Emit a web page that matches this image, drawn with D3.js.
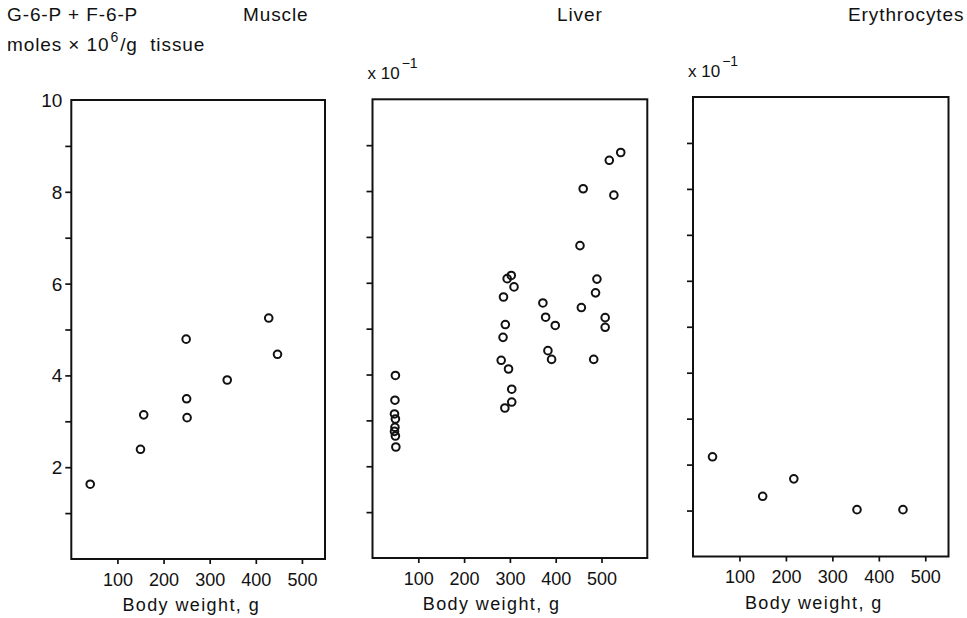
<!DOCTYPE html>
<html>
<head>
<meta charset="utf-8">
<script src="https://cdn.jsdelivr.net/npm/d3@7"></script>
<style>
  html, body { margin: 0; padding: 0; background: #fff; }
  svg text { font-family: "Liberation Sans", Arial, sans-serif; fill: #111; }
</style>
</head>
<body>
<svg id="chart" width="967" height="618"></svg>
<script>
// Body weight (g) and hexose monophosphate content, one pair of arrays per tissue
const muscleWeight = [41, 150, 157, 249, 250, 251, 338, 428, 447];
const muscleValue  = [1.63, 2.39, 3.14, 4.79, 3.49, 3.08, 3.90, 5.25, 4.46];

const liverWeight = [542, 517, 460, 527, 453, 490, 487, 303, 294, 309, 286,
                     372, 378, 399, 456, 508, 508, 290, 285, 383, 391, 483, 281, 297, 304, 304, 289,
                     50, 49, 48, 50, 49, 48, 50, 51];
const liverValue  = [8.84, 8.67, 8.05, 7.91, 6.81, 6.08, 5.78, 6.16, 6.09, 5.91, 5.69,
                     5.56, 5.25, 5.07, 5.46, 5.24, 5.03, 5.09, 4.81, 4.52, 4.33, 4.33, 4.31, 4.12, 3.68, 3.40, 3.27,
                     3.98, 3.44, 3.14, 3.03, 2.85, 2.76, 2.66, 2.42];

const eryWeight = [42, 150, 217, 353, 452];
const eryValue  = [2.17, 1.31, 1.69, 1.02, 1.02];

// Axis ticks
const xTickValues = [100, 200, 300, 400, 500];
const yTickValues = [1, 2, 3, 4, 5, 6, 7, 8, 9];
const yTickLabels = [2, 4, 6, 8, 10];

const panels = [
  { title: "Muscle", w: muscleWeight, v: muscleValue, xMax: 550,
    left: 71.3, right: 325, top: 100, bottom: 559, titleX: 243, labels: true },
  { title: "Liver", w: liverWeight, v: liverValue, xMax: 600,
    left: 372.5, right: 647.3, top: 99.3, bottom: 558, titleX: 557, scale: true },
  { title: "Erythrocytes", w: eryWeight, v: eryValue, xMax: 550,
    left: 693, right: 948.5, top: 97, bottom: 556.5, titleX: 848, scale: true }
];

const svg = d3.select("#chart");
const ink = "#111";

// Header: quantity and unit
svg.append("text").attr("x", 7).attr("y", 21).attr("font-size", 19)
  .attr("letter-spacing", 0.9).text("G-6-P + F-6-P");
const unit = svg.append("text").attr("x", 7).attr("y", 51).attr("font-size", 19)
  .attr("letter-spacing", 0.9);
unit.append("tspan").text("moles \u00d7 10");
unit.append("tspan").attr("dy", -9).attr("dx", 1).attr("font-size", 14).text("6");
unit.append("tspan").attr("dy", 9).attr("dx", 1).text("/g\u00a0\u00a0tissue");

panels.forEach(p => {
  const x = d3.scaleLinear().domain([0, p.xMax]).range([p.left, p.right]);
  const y = d3.scaleLinear().domain([0, 10]).range([p.bottom, p.top]);
  const g = svg.append("g");

  // Frame
  g.append("rect")
    .attr("x", p.left).attr("y", p.top)
    .attr("width", p.right - p.left).attr("height", p.bottom - p.top)
    .attr("fill", "none").attr("stroke", ink).attr("stroke-width", 2);

  // Bottom axis
  const xa = g.append("g").attr("transform", `translate(0,${p.bottom})`)
    .call(d3.axisBottom(x).tickValues(xTickValues).tickSize(5).tickPadding(9));
  xa.select(".domain").remove();
  xa.selectAll(".tick line").attr("stroke", ink).attr("stroke-width", 1.7);
  xa.selectAll(".tick text").attr("font-size", 18).attr("fill", ink)
    .attr("font-family", "Liberation Sans, Arial, sans-serif");

  // Left axis
  const ya = g.append("g").attr("transform", `translate(${p.left},0)`)
    .call(d3.axisLeft(y).tickValues(yTickValues).tickSize(6).tickFormat(""));
  ya.select(".domain").remove();
  ya.selectAll(".tick line").attr("stroke", ink).attr("stroke-width", 1.7);

  if (p.labels) {
    g.selectAll("text.ylab").data(yTickLabels).join("text")
      .attr("class", "ylab")
      .attr("x", p.left - 9)
      .attr("y", d => y(d) + 7)
      .attr("text-anchor", "end")
      .attr("font-size", 19)
      .text(d => d);
  }

  if (p.scale) {
    const s = g.append("text").attr("x", p.left - 5).attr("y", p.top - 20).attr("font-size", 17);
    s.append("tspan").text("x 10");
    s.append("tspan").attr("dy", -11).attr("dx", 2).attr("font-size", 14).text("\u22121");
  }

  // Axis title
  g.append("text")
    .attr("x", x(260)).attr("y", p.bottom + 52)
    .attr("text-anchor", "middle")
    .attr("font-size", 18).attr("letter-spacing", 1.4)
    .text("Body weight, g");

  // Panel title
  g.append("text").attr("x", p.titleX).attr("y", 21).attr("font-size", 19)
    .attr("letter-spacing", 0.9).text(p.title);

  // Points
  g.selectAll("circle").data(p.w.map((w, i) => [w, p.v[i]])).join("circle")
    .attr("cx", d => x(d[0])).attr("cy", d => y(d[1]))
    .attr("r", 3.8)
    .attr("fill", "none").attr("stroke", ink).attr("stroke-width", 2);
});
</script>
</body>
</html>
